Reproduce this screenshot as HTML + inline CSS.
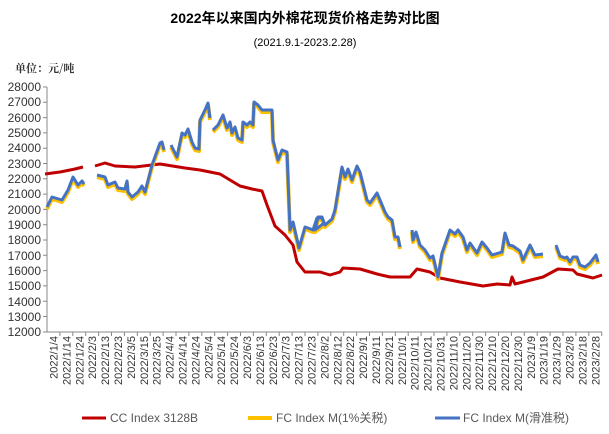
<!DOCTYPE html>
<html><head><meta charset="utf-8"><style>
body{margin:0;background:#fff;width:609px;height:434px;overflow:hidden}
svg{display:block;font-family:"Liberation Sans","Noto Sans CJK SC",sans-serif}
</style></head><body>
<svg width="609" height="434" viewBox="0 0 609 434">
<text x="305" y="23" text-anchor="middle" font-size="14" font-weight="bold" fill="#000">2022年以来国内外棉花现货价格走势对比图</text>
<text x="305" y="46" text-anchor="middle" font-size="11" fill="#000">(2021.9.1-2023.2.28)</text>
<text x="15" y="72" font-size="11" font-weight="bold" fill="#333" font-family="'Noto Serif CJK SC',serif">单位：元/吨</text>
<g font-size="12" fill="#333" text-anchor="end">
<text x="41" y="91">28000</text><text x="41" y="106">27000</text><text x="41" y="122">26000</text><text x="41" y="137">25000</text><text x="41" y="152">24000</text><text x="41" y="168">23000</text><text x="41" y="183">22000</text><text x="41" y="198">21000</text><text x="41" y="214">20000</text><text x="41" y="229">19000</text><text x="41" y="244">18000</text><text x="41" y="260">17000</text><text x="41" y="275">16000</text><text x="41" y="290">15000</text><text x="41" y="306">14000</text><text x="41" y="321">13000</text><text x="41" y="336">12000</text>
</g>
<g stroke="#888" stroke-width="1">
<line x1="47" y1="87" x2="47" y2="332"/>
<line x1="47" y1="332" x2="602" y2="332"/>
<path d="M43 87h4M43 102.3h4M43 117.6h4M43 132.9h4M43 148.2h4M43 163.5h4M43 178.8h4M43 194.1h4M43 209.4h4M43 224.7h4M43 240h4M43 255.3h4M43 270.6h4M43 285.9h4M43 301.2h4M43 316.5h4M43 332h4"/>
</g>
<g id="xt" font-size="11" fill="#333"></g>
<path d="M45 174L60 172L75 169L83 167M95 166L105 163L115 166L135 167L160 164L185 168L200 170L220 174L240 186L252 189L262 191L267 205L275 226L285 235L293 245L297 262L305 272L320 272L330 275L340 272L343 268L360 269L377 274L390 277L410 277L417 269L430 272L440 278L460 282L483 286L497 284L510 285L512 277L515 284L543 277L558 269L573 270L577 274L593 278L602 275" fill="none" stroke="#c00000" stroke-width="3" stroke-linejoin="round"/>
<g id="fc" fill="none" stroke-linejoin="round">
<path id="p" d="M47 207L52 197L62 200L68 190L73 177L78 185L82 181L84 184M97 175L105 177L108 185L115 182L118 188L125 189L127 181L128 192L132 197L138 192L142 186L145 192L152 165L160 143L162 142L164 150M171 145L177 157L182 133L185 135L188 129L192 142L195 148L199 149L200 120L205 110L208 103L210 118M213 130L218 125L223 115L227 128L230 122L232 133L235 127L238 138L242 140L243 122L247 125L250 122L253 125L254 102L258 105L262 110L272 110L273 140L278 160L282 150L287 152L290 230L293 222L299 248L305 227L308 228L313 230L317 218L322 218L324 223L310 228M310 228L315 230L318 217L322 217L325 225L332 219L335 210L342 167L345 177L348 169L352 180L357 166L360 172L367 200L370 203L377 193L380 200L385 212L388 217L392 220L395 237L398 237L400 247M412 230L413 240L416 232L420 245L425 250L430 258L433 256L438 277L442 253L450 230L455 234L458 230L463 237L467 250L470 243L477 253L482 242L487 248L492 255L502 252L505 233L509 245L513 246L520 251L523 260L530 245L535 255L543 254M556 245L560 256L565 258L567 257L570 262L573 257L577 257L580 265L585 267L590 263L596 255L598 262"/>
</g>
<g font-size="12" fill="#595959">
<line x1="82" y1="418" x2="106" y2="418" stroke="#c00000" stroke-width="3"/>
<text x="110" y="422">CC Index 3128B</text>
<line x1="248" y1="418" x2="272" y2="418" stroke="#ffc000" stroke-width="4"/>
<text x="276" y="422">FC Index M(1%关税)</text>
<line x1="435" y1="418" x2="460" y2="418" stroke="#4472c4" stroke-width="3"/>
<text x="463" y="422">FC Index M(滑准税)</text>
</g>
</svg>
<script>
(function(){
var ns="http://www.w3.org/2000/svg";
var p=document.getElementById('p');var d=p.getAttribute('d');
// fix stray segment
d=d.replace("L324 223L310 228M310 228","L324 223M324 223");
var fc=document.getElementById('fc');fc.innerHTML='';
var y=document.createElementNS(ns,'path');y.setAttribute('d',d);y.setAttribute('stroke','#ffc000');y.setAttribute('stroke-width','4');y.setAttribute('transform','translate(0,2)');fc.appendChild(y);
var b=document.createElementNS(ns,'path');b.setAttribute('d',d);b.setAttribute('stroke','#4472c4');b.setAttribute('stroke-width','3');fc.appendChild(b);
var g=document.getElementById('xt');
var start=new Date(2022,0,4);
var tk='';
for(var k=0;k<43;k++){
var dt=new Date(start.getTime()+k*10*86400000);
var s=dt.getFullYear()+'/'+(dt.getMonth()+1)+'/'+dt.getDate();
var x=47+6.45+k*12.9;
var t=document.createElementNS(ns,'text');
t.setAttribute('transform','translate('+(x+4)+',336) rotate(-90)');
t.setAttribute('text-anchor','end');t.textContent=s;g.appendChild(t);
tk+='M'+(47+(k+1)*12.9)+' 332v4';
}
var l=document.createElementNS(ns,'path');l.setAttribute('d',tk);l.setAttribute('stroke','#888');g.appendChild(l);
})();
</script>
</body></html>
